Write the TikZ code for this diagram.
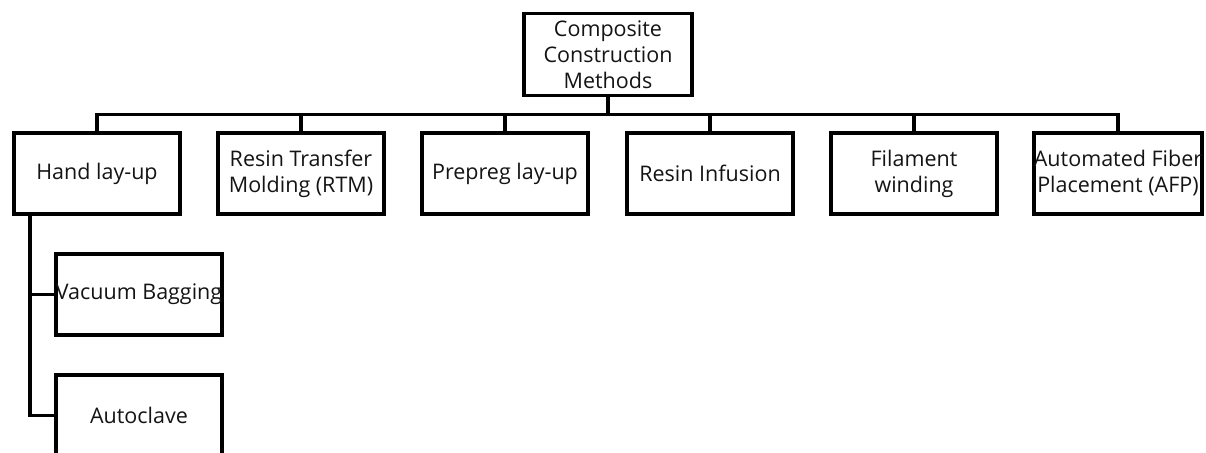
\documentclass[tikz,border=0pt]{standalone}
\usepackage{fontspec}
\setmainfont{Open Sans}
\usetikzlibrary{calc}
\begin{document}
\begin{tikzpicture}[x=1pt,y=-1pt,
  box/.style={draw=black,line width=3.9pt,minimum width=166pt,minimum height=81pt,inner sep=0pt,align=center,text=black!92,font=\fontsize{21.5}{26}\selectfont},
  conn/.style={draw=black,line width=3.6pt}]
\useasboundingbox (0,0) rectangle (1206,452);
\node[box,minimum width=168pt,minimum height=82pt] (top) at (608,54.5) {Composite\\Construction\\Methods};
\node[box] (hand) at (97,173.5) {Hand lay-up};
\node[box] (rtm) at (301,173.5) {Resin Transfer\\Molding (RTM)};
\node[box] (pre) at (505,173.5) {Prepreg lay-up};
\node[box] (inf) at (710,173.5) {Resin Infusion};
\node[box] (fil) at (914,173.5) {Filament\\winding};
\node[box] (afp) at (1118,173.5) {Automated Fiber\\Placement (AFP)};
\node[box] (vac) at (139,294.5) {Vacuum Bagging};
\node[box] (auto) at (139,415.5) {Autoclave};
\foreach \c in {hand,rtm,pre,inf,fil,afp}{
  \draw[conn] (top.south) -- ++(0,17) -| (\c.north);
}
\coordinate (hl) at ($(hand.south west)+(18,0)$);
\draw[conn] (hl) |- (vac.west);
\draw[conn] (hl) |- (auto.west);
\end{tikzpicture}
\end{document}
